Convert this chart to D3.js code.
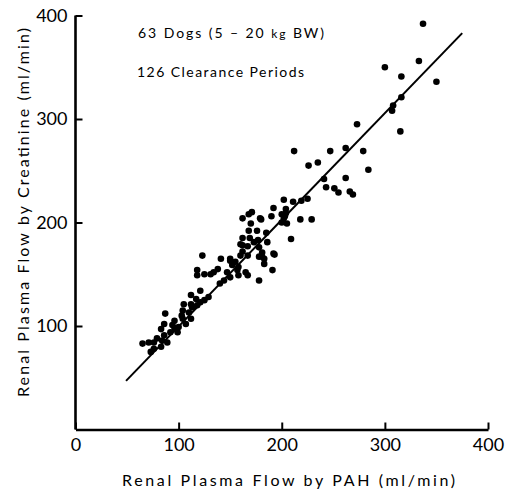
<!DOCTYPE html>
<html>
<head>
<meta charset="utf-8">
<script src="https://cdn.jsdelivr.net/npm/d3@7"></script>
<style>
  body { margin: 0; background: #fff; }
  svg { display: block; font-family: Lato, "DejaVu Sans", sans-serif; }
</style>
</head>
<body>
<div id="chart"></div>
<script>
// PAH flow (x) vs creatinine flow (y), ml/min
const pahFlow = [
  337, 300, 333, 316, 350, 316, 308, 307, 315, 273,
  247, 262, 279, 212, 226, 235, 284, 241, 262, 243,
  251, 255, 266, 269, 225, 219, 202, 211, 192, 204,
  204, 203, 190, 179, 171, 218, 229, 202, 162, 170,
  180, 168, 200, 205, 168, 176, 185, 162, 169, 177,
  209, 162, 167, 178, 160, 173, 186, 181, 192, 162,
  160, 167, 141, 150, 183, 193, 191, 178, 167, 183,
  181, 157, 123, 118, 125, 118, 131, 138, 150, 152,
  147, 158, 150, 158, 165, 144, 140, 121, 112, 117,
  105, 112, 121, 113, 125, 129, 118, 87, 104, 110,
  96, 104, 112, 86, 94, 100, 107, 83, 92, 99,
  86, 84, 89, 79, 65, 71, 76, 76, 73, 83,
  200, 178, 134, 96, 103, 155
];
const creatFlow = [
  392, 350, 356, 341, 336, 321, 313, 308, 288, 295,
  269, 272, 269, 269, 255, 258, 251, 242, 243, 234,
  233, 229, 230, 227, 223, 221, 222, 220, 214, 213,
  209, 206, 206, 204, 210, 203, 203, 204, 204, 199,
  203, 208, 200, 199, 192, 192, 190, 185, 185, 183,
  184, 178, 177, 176, 179, 181, 181, 171, 170, 172,
  168, 168, 165, 165, 165, 169, 154, 144, 149, 160,
  167, 154, 168, 154, 150, 149, 150, 155, 163, 159,
  152, 157, 147, 149, 152, 144, 141, 134, 130, 126,
  121, 121, 123, 118, 125, 128, 120, 112, 115, 113,
  105, 107, 107, 102, 101, 99, 102, 97, 94, 94,
  91, 86, 84, 88, 83, 84, 84, 78, 75, 80,
  208, 167, 152, 98, 110, 162
];
// regression line end points
const fitX = [49, 375];
const fitY = [47, 383];

const xTicks = [0, 100, 200, 300, 400];
const yTicks = [100, 200, 300, 400];

const width = 518, height = 491;
const svg = d3.select("#chart").append("svg")
  .attr("width", width).attr("height", height);

const x = d3.scaleLinear().domain([0, 400]).range([75.5, 488]);
const y = d3.scaleLinear().domain([0, 400]).range([429.5, 15.5]);

// x axis, ticks pointing up
svg.append("g")
  .attr("transform", `translate(0,${y(0)})`)
  .call(d3.axisBottom(x).tickValues(xTicks).tickSizeInner(-7).tickSizeOuter(0).tickPadding(9))
  .call(g => g.select(".domain").attr("stroke-width", 2.6))
  .call(g => g.selectAll(".tick line").attr("stroke-width", 2))
  .call(g => g.selectAll(".tick text").attr("font-size", 18).attr("fill", "#000")
    .attr("font-family", "Lato, 'DejaVu Sans', sans-serif"));

// y axis, ticks pointing right
svg.append("g")
  .attr("transform", `translate(${x(0)},0)`)
  .call(d3.axisLeft(y).tickValues(yTicks).tickSizeInner(-7).tickSizeOuter(0).tickPadding(8))
  .call(g => g.select(".domain").attr("d", `M0,${y(400)}V${y(0)}`).attr("stroke-width", 2.6))
  .call(g => g.selectAll(".tick line").attr("stroke-width", 2))
  .call(g => g.selectAll(".tick text").attr("font-size", 18).attr("fill", "#000")
    .attr("font-family", "Lato, 'DejaVu Sans', sans-serif"));

// fitted line
svg.append("line")
  .attr("x1", x(fitX[0])).attr("y1", y(fitY[0]))
  .attr("x2", x(fitX[1])).attr("y2", y(fitY[1]))
  .attr("stroke", "#000").attr("stroke-width", 2);

// points
svg.append("g")
  .selectAll("circle")
  .data(d3.range(pahFlow.length))
  .join("circle")
  .attr("cx", i => x(pahFlow[i]))
  .attr("cy", i => y(creatFlow[i]))
  .attr("r", 3.3)
  .attr("fill", "#000");

// notes
const note1 = svg.append("text").attr("x", 138).attr("y", 38)
  .attr("font-size", 14).attr("textLength", 186).attr("lengthAdjust", "spacing");
note1.append("tspan").text("63 Dogs (5 \u2013 20 ");
note1.append("tspan").attr("font-size", 12).text("kg");
note1.append("tspan").text(" BW)");

svg.append("text").attr("x", 137).attr("y", 77)
  .attr("font-size", 14).attr("textLength", 167).attr("lengthAdjust", "spacing")
  .text("126 Clearance Periods");

// axis titles
svg.append("text")
  .attr("x", 122).attr("y", 486)
  .attr("font-size", 16).attr("textLength", 333).attr("lengthAdjust", "spacing")
  .text("Renal Plasma Flow by PAH (ml/min)");

svg.append("text")
  .attr("transform", "translate(29,397) rotate(-90)")
  .attr("font-size", 16).attr("textLength", 369).attr("lengthAdjust", "spacing")
  .text("Renal Plasma Flow by Creatinine (ml/min)");
</script>
</body>
</html>
